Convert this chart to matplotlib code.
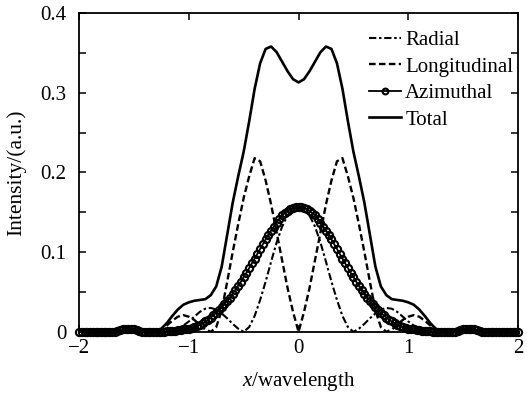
import numpy as np
import matplotlib
matplotlib.use("Agg")
import matplotlib.pyplot as plt
from matplotlib.ticker import MultipleLocator, FixedLocator

plt.rcParams['font.family'] = ['Liberation Serif', 'DejaVu Serif']
plt.rcParams['mathtext.fontset'] = 'custom'
plt.rcParams['mathtext.rm'] = 'Liberation Serif'
plt.rcParams['mathtext.it'] = 'Liberation Serif:italic'

# half profiles (x >= 0), the chart is symmetric about x = 0
x_half = [0.00, 0.05, 0.10, 0.15, 0.20, 0.25, 0.30, 0.35, 0.40, 0.45,
          0.50, 0.55, 0.60, 0.65, 0.70, 0.75, 0.80, 0.85, 0.90, 0.95,
          1.00, 1.05, 1.10, 1.15, 1.20, 1.25, 1.30, 1.35, 1.40, 1.45,
          1.50, 1.55, 1.60, 1.65, 1.70, 1.75, 1.80, 1.85, 1.90, 1.95, 2.00]
radial = [0.157, 0.154, 0.146, 0.132, 0.112, 0.088, 0.063, 0.040, 0.020, 0.006,
          0.000, 0.004, 0.010, 0.017, 0.023, 0.028, 0.030, 0.029, 0.025, 0.019,
          0.013, 0.008, 0.004, 0.001, 0.000, 0, 0, 0, 0, 0,
          0, 0, 0, 0, 0, 0, 0, 0, 0, 0, 0]
longitudinal = [0.000, 0.025, 0.055, 0.090, 0.125, 0.160, 0.190, 0.214, 0.218, 0.195,
                0.168, 0.135, 0.100, 0.063, 0.027, 0.006, 0.000, 0.003, 0.009, 0.015,
                0.019, 0.021, 0.019, 0.014, 0.008, 0.003, 0.000, 0, 0, 0,
                0, 0, 0, 0, 0, 0, 0, 0, 0, 0, 0]
total = [0.313, 0.317, 0.327, 0.339, 0.351, 0.358, 0.355, 0.337, 0.305, 0.264,
         0.226, 0.195, 0.162, 0.122, 0.082, 0.057, 0.046, 0.041, 0.040, 0.039,
         0.037, 0.034, 0.028, 0.020, 0.011, 0.004, 0.001, 0.000, 0.000, 0.001,
         0.003, 0.004, 0.003, 0.001, 0, 0, 0, 0, 0, 0, 0]

# azimuthal is sampled finer (markers on every sample)
xa_half = [i * 0.025 for i in range(81)]
azimuthal = [0.157, 0.157, 0.156, 0.154, 0.152, 0.149, 0.146, 0.142, 0.137, 0.132,
             0.127, 0.122, 0.116, 0.110, 0.104, 0.098, 0.092, 0.086, 0.080, 0.074,
             0.069, 0.063, 0.058, 0.053, 0.048, 0.043, 0.039, 0.035, 0.031, 0.027,
             0.024, 0.021, 0.018, 0.015, 0.013, 0.011, 0.009, 0.0075, 0.006, 0.005,
             0.004, 0.0035, 0.003, 0.0025, 0.002, 0.0015, 0.001, 0.001, 0.0005, 0,
             0, 0, 0, 0, 0, 0, 0, 0, 0.001, 0.002,
             0.003, 0.004, 0.004, 0.004, 0.003, 0.002, 0.001, 0, 0, 0,
             0, 0, 0, 0, 0, 0, 0, 0, 0, 0, 0]


def mirror(xh, yh):
    xh = np.asarray(xh)
    yh = np.asarray(yh)
    return np.concatenate([-xh[:0:-1], xh]), np.concatenate([yh[:0:-1], yh])


fig = plt.figure(figsize=(5.27, 3.96), dpi=100)
ax = fig.add_axes([0.150, 0.162, 0.833, 0.805])

xr, yr = mirror(x_half, radial)
xl, yl = mirror(x_half, longitudinal)
xa, ya = mirror(xa_half, azimuthal)
xt, yt = mirror(x_half, total)

ax.plot(xr, yr, color='black', lw=1.5, ls=(0, (3.5, 1.3, 1.2, 1.3)), label='Radial')
ax.plot(xl, yl, color='black', lw=1.7, ls=(0, (2.8, 1.4)), label='Longitudinal')
ax.plot(xa, ya, color='black', lw=1.3, marker='o', ms=5.2, mfc='none', mew=1.5,
        label='Azimuthal', clip_on=False)
ax.plot(xt, yt, color='black', lw=1.9, label='Total')

ax.set_xlim(-2, 2)
ax.set_ylim(0, 0.4)
ax.xaxis.set_major_locator(FixedLocator([-2, -1, 0, 1, 2]))
ax.set_xticklabels(['\u22122', '\u22121', '0', '1', '2'])
ax.yaxis.set_major_locator(FixedLocator([0, 0.1, 0.2, 0.3, 0.4]))
ax.set_yticklabels(['0', '0.1', '0.2', '0.3', '0.4'])
ax.yaxis.set_minor_locator(MultipleLocator(0.05))
ax.tick_params(which='both', direction='in', top=True, right=True, labelsize=15,
               width=1.1, length=5)
ax.tick_params(axis='y', pad=9)
ax.tick_params(axis='x', pad=5)
for s in ax.spines.values():
    s.set_linewidth(1.3)

ax.set_xlabel(r'$x$/wavelength', fontsize=15, labelpad=9)
ax.set_ylabel('Intensity/(a.u.)', fontsize=15.5, labelpad=10)

ax.legend(loc='upper left', bbox_to_anchor=(0.66, 0.945), frameon=False,
          fontsize=15, handlelength=1.55, handletextpad=0.2, labelspacing=0.33,
          borderaxespad=0, borderpad=0, markerscale=0.8)

fig.savefig('out.png', dpi=100)
